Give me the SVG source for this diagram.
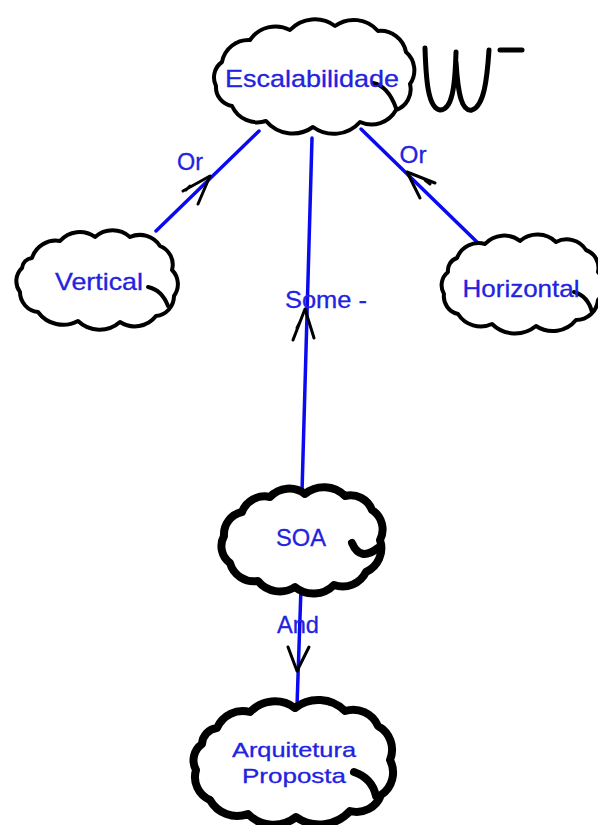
<svg xmlns="http://www.w3.org/2000/svg" width="598" height="825" viewBox="0 0 598 825">
  <defs>
    <style>
      .cloud { fill: #ffffff; stroke: #000000; stroke-linejoin: round; stroke-linecap: round; }
      .thin { stroke-width: 4; }
      .thick { stroke-width: 8; }
      .hook { fill: none; stroke: #000000; stroke-linecap: round; }
      .label { font-family: "Liberation Sans", Arial, sans-serif; font-size: 24px; fill: #2222e0; stroke: #2222e0; stroke-width: 0.3; text-anchor: middle; }
      .small { font-size: 21px; }
      .edge { fill: none; stroke: #0a0af0; stroke-width: 3.5; stroke-linecap: round; }
      .head { fill: none; stroke: #000000; stroke-width: 3; stroke-linecap: round; stroke-linejoin: round; }
      .scribble { fill: none; stroke: #000000; stroke-width: 5; stroke-linecap: round; stroke-linejoin: round; }
    </style>
  </defs>

  <rect width="598" height="825" fill="#ffffff"/>

  <!-- connectors -->
  <g id="connectors">
    <line class="edge" x1="259" y1="131" x2="156" y2="231"/>
    <line class="edge" x1="361" y1="129" x2="478" y2="243"/>
    <line class="edge" x1="312" y1="138" x2="302" y2="492"/>
    <line class="edge" x1="301" y1="588" x2="297" y2="706"/>

    <!-- arrowheads -->
    <path class="head" d="M183 191 L210 176 L198 204 M190 186 L186 190"/>
    <path class="head" d="M435 183 L407 172 L420 198 M425 180 L430 184"/>
    <path class="head" d="M293 340 L305 309 L314 338 M300 322 L297 328"/>
    <path class="head" d="M288 647 L297 671 L309 647"/>

    <!-- connector labels -->
    <text class="label" x="190" y="170" textLength="26" lengthAdjust="spacingAndGlyphs">Or</text>
    <text class="label" x="413" y="163" textLength="27" lengthAdjust="spacingAndGlyphs">Or</text>
    <text class="label" x="326" y="308" textLength="82" lengthAdjust="spacingAndGlyphs">Some -</text>
    <text class="label" x="298" y="633" textLength="42" lengthAdjust="spacingAndGlyphs">And</text>
  </g>

  <!-- Escalabilidade -->
  <g id="node-escalabilidade">
    <path class="cloud thin" d="M222 62 A27 27 0 0 1 250 40 A31 31 0 0 1 290 30 A34 34 0 0 1 335 26 A32 32 0 0 1 378 31 A26 26 0 0 1 406 52 A24 24 0 0 1 410 84 A22 22 0 0 1 396 110 A28 28 0 0 1 360 122 A35 35 0 0 1 313 127 A35 35 0 0 1 266 121 A28 28 0 0 1 232 106 A19 19 0 0 1 216 86 A19 19 0 0 1 222 62 Z"/>
    <path class="hook" stroke-width="4" d="M373 83 Q388 86 396 108"/>
    <text class="label" x="312" y="87" textLength="174" lengthAdjust="spacingAndGlyphs">Escalabilidade</text>
  </g>

  <!-- hand-drawn mark beside the top node -->
  <g id="mark">
    <path class="scribble" d="M425 48 C426 80 428 108 440 110 C452 110 455 88 456 52 M456 62 C458 95 462 112 472 110 C484 106 487 80 489 50"/>
    <path class="scribble" stroke-width="4" d="M500 50 L522 50"/>
  </g>

  <!-- Vertical -->
  <g id="node-vertical">
    <path class="cloud thin" d="M32 258 A25 25 0 0 1 60 241 A26 26 0 0 1 95 237 A26 26 0 0 1 130 237 A24 24 0 0 1 160 246 A20 20 0 0 1 172 270 A20 20 0 0 1 174 296 A20 20 0 0 1 156 316 A27 27 0 0 1 120 322 A31 31 0 0 1 78 321 A31 31 0 0 1 38 312 A20 20 0 0 1 20 292 A18 18 0 0 1 22 268 A11 11 0 0 1 32 258 Z"/>
    <path class="hook" stroke-width="4" d="M148 287 Q162 290 168 306"/>
    <text class="label" x="99" y="290" textLength="88" lengthAdjust="spacingAndGlyphs">Vertical</text>
  </g>

  <!-- Horizontal -->
  <g id="node-horizontal">
    <path class="cloud thin" d="M457 258 A23 23 0 0 1 485 244 A26 26 0 0 1 520 241 A27 27 0 0 1 556 242 A23 23 0 0 1 586 250 A19 19 0 0 1 598 272 A21 21 0 0 1 598 300 A22 22 0 0 1 576 320 A30 30 0 0 1 536 326 A33 33 0 0 1 492 324 A27 27 0 0 1 458 314 A18 18 0 0 1 444 294 A17 17 0 0 1 448 272 A13 13 0 0 1 457 258 Z"/>
    <path class="hook" stroke-width="4" d="M574 292 Q588 296 592 312"/>
    <text class="label" x="521" y="297" textLength="117" lengthAdjust="spacingAndGlyphs">Horizontal</text>
  </g>

  <!-- SOA -->
  <g id="node-soa">
    <path class="cloud thick" d="M242 512 A24 24 0 0 1 270 497 A26 26 0 0 1 305 494 A30 30 0 0 1 345 496 A23 23 0 0 1 372 510 A23 23 0 0 1 380 540 A26 26 0 0 1 366 572 A26 26 0 0 1 334 585 A29 29 0 0 1 295 587 A28 28 0 0 1 258 581 A25 25 0 0 1 230 563 A21 21 0 0 1 224 536 A23 23 0 0 1 242 512 Z"/>
    <path class="hook" stroke-width="8" d="M352 543 Q360 562 378 548"/>
    <text class="label" x="301" y="546" textLength="50" lengthAdjust="spacingAndGlyphs">SOA</text>
  </g>

  <!-- Arquitetura Proposta -->
  <g id="node-arquitetura">
    <path class="cloud thick" d="M217 728 A28 28 0 0 1 250 712 A34 34 0 0 1 295 708 A38 38 0 0 1 345 711 A27 27 0 0 1 378 726 A27 27 0 0 1 390 760 A27 27 0 0 1 381 795 A26 26 0 0 1 350 811 A41 41 0 0 1 296 817 A36 36 0 0 1 248 814 A31 31 0 0 1 210 800 A25 25 0 0 1 196 770 A20 20 0 0 1 202 744 A17 17 0 0 1 217 728 Z"/>
    <path class="hook" stroke-width="8" d="M354 772 Q372 778 376 796"/>
    <text class="label small" x="294" y="757" textLength="124" lengthAdjust="spacingAndGlyphs">Arquitetura</text>
    <text class="label small" x="294" y="783" textLength="104" lengthAdjust="spacingAndGlyphs">Proposta</text>
  </g>
</svg>
